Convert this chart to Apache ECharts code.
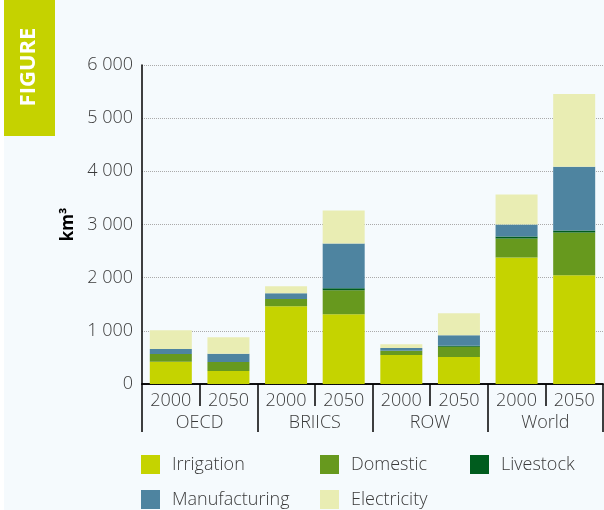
<!DOCTYPE html>
<html>
<head>
<meta charset="utf-8">
<script src="https://cdn.jsdelivr.net/npm/echarts@6/dist/echarts.min.js"></script>
<style>
  html, body { margin: 0; padding: 0; background: #f5fafd; }
  #chart { width: 604px; height: 510px; }
</style>
</head>
<body>
<div id="chart"></div>
<script>
// categories
var years = ["2000", "2050", "2000", "2050", "2000", "2050", "2000", "2050"];
var regions = ["OECD", "BRIICS", "ROW", "World"];
// water demand, km3
var irrigation    = [418, 244, 1462, 1312, 544, 506, 2381, 2044];
var domestic      = [144, 168, 138, 450, 81, 194, 356, 806];
var livestock     = [0, 0, 0, 38, 0, 19, 38, 37];
var manufacturing = [94, 157, 106, 844, 50, 200, 225, 1200];
var electricity   = [356, 312, 131, 618, 75, 412, 562, 1369];

var font = "'Open Sans', 'Noto Sans', sans-serif";
var textColor = "#3a3a3a";

var chart = echarts.init(document.getElementById("chart"));

function bar(name, data, color) {
    return {
        name: name,
        type: "bar",
        stack: "total",
        barWidth: 42,
        data: data,
        itemStyle: { color: color },
        animation: false
    };
}

// one legend per item so the columns line up like the original
function legendItem(name, left, top) {
    return {
        left: left,
        top: top,
        padding: 0,
        itemWidth: 19,
        itemHeight: 19,
        icon: "rect",
        data: [name],
        textStyle: { fontFamily: font, fontSize: 18, fontWeight: 300, color: textColor, padding: [0, 0, 0, 7] }
    };
}

var option = {
    backgroundColor: "#f5fafd",
    graphic: [
        { type: "rect", left: 0, top: 0, shape: { width: 4, height: 510 }, style: { fill: "#ffffff" } },
        { type: "rect", left: 4, top: 0, shape: { width: 51, height: 136 }, style: { fill: "#c5d200" } },
        {
            type: "text",
            x: 29, y: 67,
            rotation: Math.PI / 2,
            style: {
                text: "FIGURE",
                fill: "#ffffff",
                font: "bold 22px " + font,
                align: "center",
                verticalAlign: "middle"
            }
        }
    ],
    grid: { left: 142, right: 1, top: 65, bottom: 126 },
    legend: [
        legendItem("Irrigation", 141, 455),
        legendItem("Domestic", 320, 455),
        legendItem("Livestock", 470, 455),
        legendItem("Manufacturing", 141, 490),
        legendItem("Electricity", 320, 490)
    ],
    xAxis: [{
        type: "category",
        data: years,
        position: "bottom",
        axisLine: { show: true, lineStyle: { color: "#000", width: 1.5 } },
        axisTick: { show: true, length: 22, lineStyle: { color: "#000", width: 1.5 } },
        axisLabel: { fontFamily: font, fontSize: 18, fontWeight: 300, color: textColor, margin: 8 }
    }, {
        type: "category",
        data: regions,
        position: "bottom",
        axisLine: { show: true, lineStyle: { color: "#000", width: 1.5 } },
        axisTick: { show: true, length: 48, lineStyle: { color: "#000", width: 1.5 } },
        axisLabel: { fontFamily: font, fontSize: 18, fontWeight: 300, color: textColor, margin: 30 }
    }],
    yAxis: {
        type: "value",
        min: 0,
        max: 6000,
        interval: 1000,
        name: "km³",
        nameLocation: "middle",
        nameRotate: 90,
        nameGap: 59,
        nameTextStyle: { fontFamily: font, fontSize: 17, fontWeight: "bold", color: "#000" },
        axisLine: { show: true, lineStyle: { color: "#000", width: 1.5 } },
        axisTick: { show: false },
        splitLine: { lineStyle: { color: "#aaaaaa", type: "dotted", width: 1 } },
        axisLabel: {
            fontFamily: font, fontSize: 18, fontWeight: 300, color: textColor, margin: 9,
            formatter: function (v) {
                return v >= 1000 ? Math.floor(v / 1000) + " 000" : "" + v;
            }
        }
    },
    series: [
        bar("Irrigation", irrigation, "#c5d300"),
        bar("Domestic", domestic, "#67991e"),
        bar("Livestock", livestock, "#005c1e"),
        bar("Manufacturing", manufacturing, "#4e84a0"),
        bar("Electricity", electricity, "#e9edb3")
    ]
};
chart.setOption(option);
</script>
</body>
</html>
